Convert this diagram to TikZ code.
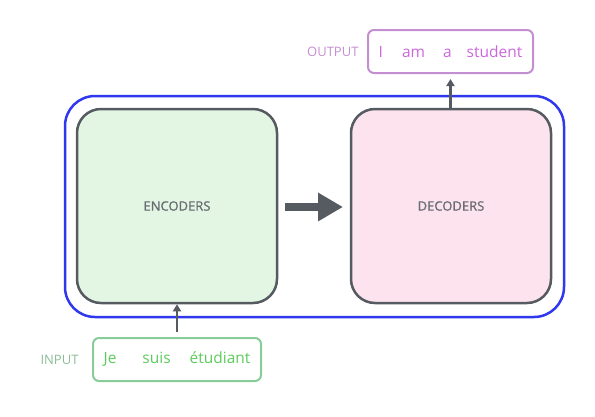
\documentclass[tikz,border=0pt]{standalone}
\usepackage{fontspec}
\setmainfont{Open Sans}
\newfontfamily\semifont[FakeBold=0.8]{Open Sans}
\usetikzlibrary{arrows.meta}

\definecolor{stackblue}{HTML}{3038EE}
\definecolor{boxgrey}{HTML}{565B61}
\definecolor{encfill}{HTML}{E3F6E3}
\definecolor{decfill}{HTML}{FDE3EE}
\definecolor{outline}{HTML}{C48FD0}
\definecolor{outtext}{HTML}{CC66DD}
\definecolor{inline}{HTML}{88CC99}
\definecolor{intext}{HTML}{5CCB5C}
\definecolor{inlabel}{HTML}{8CBB98}

\begin{document}
\begin{tikzpicture}[x=1pt, y=-1pt,
    coder/.style={draw=boxgrey, line width=2.5pt, rounded corners=24pt,
      minimum width=200pt, minimum height=194pt, text=boxgrey!90,
      font=\semifont\fontsize{13}{15}\selectfont},
    wordbox/.style={line width=2pt, rounded corners=6pt,
      minimum height=43pt, font=\fontsize{15.5}{18}\selectfont},
    tag/.style={font=\fontsize{13}{15}\selectfont},
    thin arrow/.style={draw=boxgrey, line width=2.5pt,
      -{Triangle[length=7pt,width=8pt]}}
    ]
    \useasboundingbox (0,0) rectangle (595,416);
    % outer stack
    \draw[stackblue, line width=2.5pt, rounded corners=30pt]
      (65,96) rectangle (564,317);
    \node[coder, fill=encfill] (enc) at (177,206) {ENCODERS};
    \node[coder, fill=decfill] (dec) at (451,206) {DECODERS};
    \draw[boxgrey, line width=8pt, -{Triangle[length=25pt,width=27pt]}]
      (285,207) -- (343,207);
    % output sentence
    \node[wordbox, draw=outline, text=outtext, minimum width=165pt]
      (out) at (450.5,51.5) {I\hspace{19pt}am\hspace{18pt}a\hspace{15pt}student};
    \node[tag, text=outline, anchor=east] (outlbl) at (362,52) {OUTPUT};
    % input sentence
    \node[wordbox, draw=inline, text=intext, minimum width=168pt]
      (in) at (177,359.5) {Je\hspace{26pt}suis\hspace{19pt}étudiant};
    \node[tag, text=inlabel, anchor=east] (inlbl) at (82,360) {INPUT};
    \draw[thin arrow, shorten >=5pt] (dec.north -| out.south) -- (out.south);
    \draw[thin arrow, shorten <=5pt] (in.north) -- (enc.south);
\end{tikzpicture}
\end{document}
